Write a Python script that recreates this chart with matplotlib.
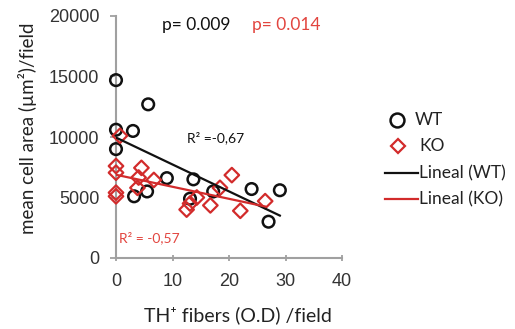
import numpy as np
import matplotlib
matplotlib.use("Agg")
import matplotlib.pyplot as plt
from matplotlib.lines import Line2D

# TH+ fiber density (x) vs mean cell area (y)
wt_x = [0, 5.7, 0, 3.0, 0, 9.0, 3.2, 5.5, 13.7, 13.1, 17.2, 24.0, 29.0, 27.0]
wt_y = [14700, 12700, 10600, 10500, 9000, 6600, 5100, 5500, 6500, 4900, 5500, 5700, 5600, 3000]

ko_x = [0, 0, 0, 0, 0.7, 4.5, 4.0, 6.7, 3.8, 12.5, 13.1, 14.3, 16.7, 18.4, 20.5, 22.0, 26.4]
ko_y = [7600, 7050, 5400, 5100, 10100, 7450, 6650, 6450, 5800, 4000, 4500, 5000, 4350, 5800, 6850, 3900, 4700]

x_ticks = [0, 10, 20, 30, 40]
y_ticks = [0, 5000, 10000, 15000, 20000]

p_wt, p_ko = "p= 0.009", "p= 0.014"
r2_wt, r2_ko = "R² =-0,67", "R² = -0,57"
legend_labels = ["WT", "KO", "Lineal (WT)", "Lineal (KO)"]

BLACK = "#111111"
RED = "#D22B2B"
RED_TXT = "#E2453F"
GRAY = "#A0A0A0"
LBL = ["Lato", "DejaVu Sans"]
NUM = ["Liberation Sans", "DejaVu Sans"]

W, H = 515, 329
fig = plt.figure(figsize=(W / 100, H / 100), dpi=100)
ax = fig.add_axes([116 / W, 1 - 258 / H, (342 - 116) / W, (258 - 16) / H])

ax.scatter(wt_x, wt_y, s=70, facecolors="none", edgecolors=BLACK, linewidths=1.8,
           marker="o", clip_on=False, zorder=3)
ax.scatter(ko_x, ko_y, s=55, facecolors="none", edgecolors=RED, linewidths=1.6,
           marker="D", clip_on=False, zorder=4)

# linear trendlines over each group's x range
for xs, ys, col in ((wt_x, wt_y, BLACK), (ko_x, ko_y, RED)):
    k, b = np.polyfit(xs, ys, 1)
    xx = np.array([min(xs), max(xs)])
    ax.plot(xx, k * xx + b, color=col, lw=1.6, zorder=5)

ax.set_xlim(0, 40)
ax.set_ylim(0, 20000)
ax.set_xticks(x_ticks)
ax.set_yticks(y_ticks)
for s in ("top", "right"):
    ax.spines[s].set_visible(False)
for s in ("left", "bottom"):
    ax.spines[s].set_color(GRAY)
    ax.spines[s].set_linewidth(1.5)
ax.tick_params(axis="x", direction="inout", length=5, width=1.3, color=GRAY, pad=8,
               labelsize=13, labelcolor="#333333")
ax.tick_params(axis="y", direction="out", length=4, width=1.3, color=GRAY, pad=8,
               labelsize=13, labelcolor="#333333")
for lab in ax.get_xticklabels() + ax.get_yticklabels():
    lab.set_fontfamily(NUM)

ax.set_xlabel("TH⁺ fibers (O.D) /field", fontsize=14, family=LBL, color="#222222")
ax.set_ylabel("mean cell area (µm²)/field", fontsize=13.5, family=LBL, color="#222222")
ax.xaxis.set_label_coords((237.5 - 116) / 226, -(306 - 258) / 242)
ax.yaxis.set_label_coords((37 - 116) / 226, (258 - 128) / 242)

fig.text(162 / W, 1 - 25 / H, p_wt, fontsize=12.5, family=LBL, color=BLACK, va="center")
fig.text(252 / W, 1 - 25 / H, p_ko, fontsize=12.5, family=LBL, color=RED_TXT, va="center")
fig.text(187 / W, 1 - 138 / H, r2_wt, fontsize=10, family=LBL, color=BLACK, va="center")
fig.text(119 / W, 1 - 238 / H, r2_ko, fontsize=10, family=LBL, color=RED_TXT, va="center")

# legend, one row per entry
rows_y = [120, 146, 173, 199]
tf = fig.transFigure
fig.add_artist(Line2D([397 / W], [1 - rows_y[0] / H], transform=tf, ls="none", marker="o",
                      ms=10, mfc="none", mec=BLACK, mew=1.8))
fig.add_artist(Line2D([398 / W], [1 - rows_y[1] / H], transform=tf, ls="none", marker="D",
                      ms=7, mfc="none", mec=RED, mew=1.6))
fig.add_artist(Line2D([385 / W, 418 / W], [1 - rows_y[2] / H] * 2, transform=tf,
                      color=BLACK, lw=1.6))
fig.add_artist(Line2D([385 / W, 418 / W], [1 - rows_y[3] / H] * 2, transform=tf,
                      color=RED, lw=1.6))
text_x = [415, 419, 419, 419]
for lbl, tx, ty in zip(legend_labels, text_x, rows_y):
    fig.text(tx / W, 1 - ty / H, lbl, fontsize=12.5, family=LBL, color="#222222", va="center")

fig.savefig("out.png", dpi=100)
